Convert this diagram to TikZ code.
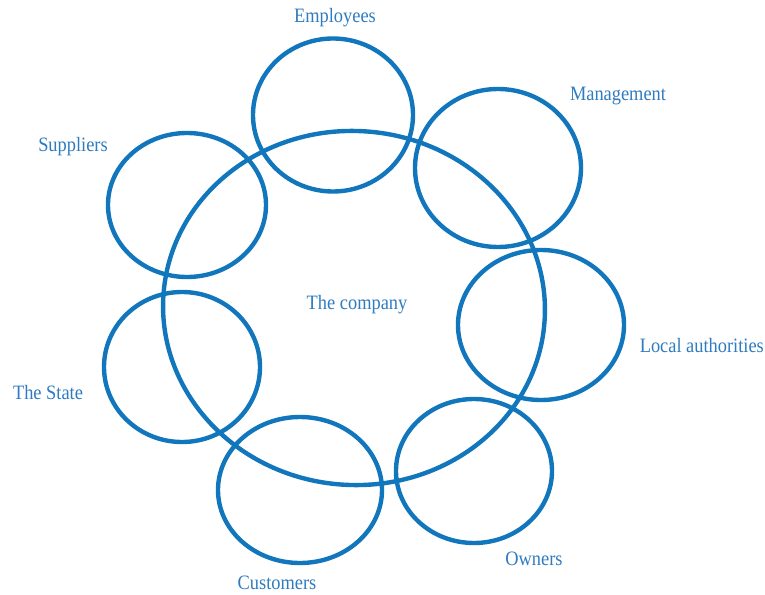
\documentclass[tikz,border=0pt]{standalone}
\usepackage{fontspec}
\setmainfont[FakeStretch=0.9]{Liberation Serif}
\usepackage{xcolor}
\usepackage{tikz}
\usetikzlibrary{shapes.geometric}
\definecolor{stkline}{HTML}{1176BC}
\definecolor{stktext}{HTML}{2F7BBF}
\tikzset{
  ring/.style={ellipse,draw=stkline,line width=4.4pt,inner sep=0pt},
  firm/.style={ring},
  lbl/.style={text=stktext,inner sep=1pt,font=\fontsize{20.5}{22}\selectfont},
}

\begin{document}
\begin{tikzpicture}[x=1bp,y=-1bp]
  \useasboundingbox (0,0) rectangle (765,595);
  % the company in the middle
  \node[firm,minimum width=382bp,minimum height=354bp,rotate=-4] (company) at (354,308) {};
  \node[lbl] (lcompany) at (357,305) {The company};
  % stakeholder rings
  \node[ring,minimum width=160bp,minimum height=153bp] (employees) at (333,115) {};
  \node[ring,minimum width=166bp,minimum height=158bp] (management) at (498,168) {};
  \node[ring,minimum width=158bp,minimum height=144bp] (suppliers) at (187,205) {};
  \node[ring,minimum width=156bp,minimum height=150bp] (state) at (182,367) {};
  \node[ring,minimum width=166bp,minimum height=150bp] (local) at (541,325) {};
  \node[ring,minimum width=164bp,minimum height=146bp] (customers) at (300,490) {};
  \node[ring,minimum width=156bp,minimum height=144bp] (owners) at (474,471) {};
  % names
  \node[lbl] (lemployees) at (335,18) {Employees};
  \node[lbl] (lmanagement) at (618,96) {Management};
  \node[lbl] (lsuppliers) at (73,147) {Suppliers};
  \node[lbl] (lstate) at (48,393) {The State};
  \node[lbl,anchor=east] (llocal) at (765,346) {Local authorities};
  \node[lbl] (lowners) at (534,559) {Owners};
  \node[lbl] (lcustomers) at (277,583) {Customers};
\end{tikzpicture}
\end{document}
